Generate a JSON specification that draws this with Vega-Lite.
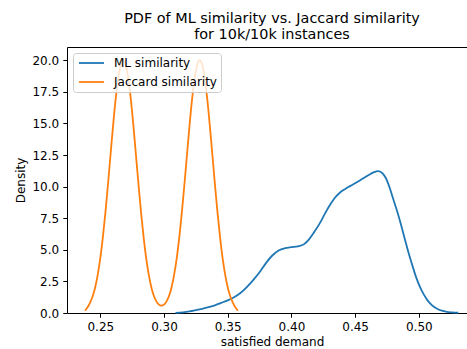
{
  "$schema": "https://vega.github.io/schema/vega-lite/v6.json",
  "width": 400,
  "height": 266,
  "autosize": {"type": "none"},
  "padding": {"left": 67, "top": 47, "right": 0, "bottom": 36},
  "background": "white",
  "title": {
    "text": ["PDF of ML similarity vs. Jaccard similarity", "for 10k/10k instances"],
    "font": "DejaVu Sans",
    "fontSize": 14.4,
    "fontWeight": "normal",
    "color": "black",
    "anchor": "middle",
    "frame": "group",
    "offset": 5,
    "lineHeight": 15.5,
    "dx": 5
  },
  "config": {
    "view": {"stroke": null},
    "axis": {
      "grid": false,
      "domainColor": "black",
      "domainWidth": 1,
      "tickColor": "black",
      "tickWidth": 1,
      "tickSize": 4.2,
      "labelPadding": 4.2,
      "labelFont": "DejaVu Sans",
      "labelFontSize": 12,
      "labelColor": "black",
      "titleFont": "DejaVu Sans",
      "titleFontSize": 12,
      "titleFontWeight": "normal",
      "titleColor": "black"
    },
    "legend": {
      "orient": "none",
      "legendX": 6,
      "legendY": 6,
      "padding": 4,
      "rowPadding": 7,
      "fillColor": "rgba(255,255,255,0.8)",
      "strokeColor": "#cccccc",
      "cornerRadius": 3,
      "symbolType": "M-0.8,0H4.2",
      "symbolSize": 100,
      "symbolStrokeWidth": 1.8,
      "labelOffset": 25,
      "labelFont": "DejaVu Sans",
      "labelFontSize": 12,
      "labelColor": "black"
    }
  },
  "data": {
    "values": [
      {"s": "ML similarity", "x": 0.309, "y": 0.01},
      {"s": "ML similarity", "x": 0.315, "y": 0.05},
      {"s": "ML similarity", "x": 0.320, "y": 0.12},
      {"s": "ML similarity", "x": 0.325, "y": 0.22},
      {"s": "ML similarity", "x": 0.330, "y": 0.33},
      {"s": "ML similarity", "x": 0.335, "y": 0.46},
      {"s": "ML similarity", "x": 0.340, "y": 0.61},
      {"s": "ML similarity", "x": 0.345, "y": 0.80},
      {"s": "ML similarity", "x": 0.350, "y": 1.00},
      {"s": "ML similarity", "x": 0.355, "y": 1.25},
      {"s": "ML similarity", "x": 0.360, "y": 1.58},
      {"s": "ML similarity", "x": 0.365, "y": 2.05},
      {"s": "ML similarity", "x": 0.370, "y": 2.60},
      {"s": "ML similarity", "x": 0.375, "y": 3.22},
      {"s": "ML similarity", "x": 0.380, "y": 3.95},
      {"s": "ML similarity", "x": 0.385, "y": 4.55},
      {"s": "ML similarity", "x": 0.390, "y": 4.95},
      {"s": "ML similarity", "x": 0.395, "y": 5.13},
      {"s": "ML similarity", "x": 0.400, "y": 5.21},
      {"s": "ML similarity", "x": 0.405, "y": 5.27},
      {"s": "ML similarity", "x": 0.410, "y": 5.45},
      {"s": "ML similarity", "x": 0.414, "y": 5.85},
      {"s": "ML similarity", "x": 0.418, "y": 6.42},
      {"s": "ML similarity", "x": 0.422, "y": 7.05},
      {"s": "ML similarity", "x": 0.426, "y": 7.80},
      {"s": "ML similarity", "x": 0.430, "y": 8.50},
      {"s": "ML similarity", "x": 0.434, "y": 9.10},
      {"s": "ML similarity", "x": 0.438, "y": 9.52},
      {"s": "ML similarity", "x": 0.442, "y": 9.80},
      {"s": "ML similarity", "x": 0.446, "y": 10.04},
      {"s": "ML similarity", "x": 0.450, "y": 10.27},
      {"s": "ML similarity", "x": 0.454, "y": 10.51},
      {"s": "ML similarity", "x": 0.458, "y": 10.76},
      {"s": "ML similarity", "x": 0.462, "y": 11.00},
      {"s": "ML similarity", "x": 0.465, "y": 11.15},
      {"s": "ML similarity", "x": 0.468, "y": 11.22},
      {"s": "ML similarity", "x": 0.471, "y": 11.10},
      {"s": "ML similarity", "x": 0.474, "y": 10.70},
      {"s": "ML similarity", "x": 0.477, "y": 9.95},
      {"s": "ML similarity", "x": 0.480, "y": 9.00},
      {"s": "ML similarity", "x": 0.483, "y": 8.05},
      {"s": "ML similarity", "x": 0.486, "y": 7.00},
      {"s": "ML similarity", "x": 0.489, "y": 5.85},
      {"s": "ML similarity", "x": 0.492, "y": 4.75},
      {"s": "ML similarity", "x": 0.495, "y": 3.75},
      {"s": "ML similarity", "x": 0.498, "y": 2.80},
      {"s": "ML similarity", "x": 0.501, "y": 2.05},
      {"s": "ML similarity", "x": 0.504, "y": 1.45},
      {"s": "ML similarity", "x": 0.507, "y": 0.98},
      {"s": "ML similarity", "x": 0.510, "y": 0.65},
      {"s": "ML similarity", "x": 0.514, "y": 0.36},
      {"s": "ML similarity", "x": 0.518, "y": 0.18},
      {"s": "ML similarity", "x": 0.522, "y": 0.09},
      {"s": "ML similarity", "x": 0.526, "y": 0.05},
      {"s": "ML similarity", "x": 0.531, "y": 0.02},
      {"s": "Jaccard similarity", "x": 0.238, "y": 0.18},
      {"s": "Jaccard similarity", "x": 0.240, "y": 0.45},
      {"s": "Jaccard similarity", "x": 0.242, "y": 0.83},
      {"s": "Jaccard similarity", "x": 0.244, "y": 1.32},
      {"s": "Jaccard similarity", "x": 0.246, "y": 2.04},
      {"s": "Jaccard similarity", "x": 0.248, "y": 3.04},
      {"s": "Jaccard similarity", "x": 0.250, "y": 4.34},
      {"s": "Jaccard similarity", "x": 0.252, "y": 5.98},
      {"s": "Jaccard similarity", "x": 0.254, "y": 7.94},
      {"s": "Jaccard similarity", "x": 0.256, "y": 10.15},
      {"s": "Jaccard similarity", "x": 0.258, "y": 12.48},
      {"s": "Jaccard similarity", "x": 0.260, "y": 14.79},
      {"s": "Jaccard similarity", "x": 0.262, "y": 16.88},
      {"s": "Jaccard similarity", "x": 0.264, "y": 18.55},
      {"s": "Jaccard similarity", "x": 0.266, "y": 19.63},
      {"s": "Jaccard similarity", "x": 0.268, "y": 20.0},
      {"s": "Jaccard similarity", "x": 0.270, "y": 19.63},
      {"s": "Jaccard similarity", "x": 0.272, "y": 18.55},
      {"s": "Jaccard similarity", "x": 0.274, "y": 16.88},
      {"s": "Jaccard similarity", "x": 0.276, "y": 14.79},
      {"s": "Jaccard similarity", "x": 0.278, "y": 12.48},
      {"s": "Jaccard similarity", "x": 0.280, "y": 10.15},
      {"s": "Jaccard similarity", "x": 0.282, "y": 7.94},
      {"s": "Jaccard similarity", "x": 0.284, "y": 5.98},
      {"s": "Jaccard similarity", "x": 0.286, "y": 4.34},
      {"s": "Jaccard similarity", "x": 0.288, "y": 3.05},
      {"s": "Jaccard similarity", "x": 0.290, "y": 2.06},
      {"s": "Jaccard similarity", "x": 0.292, "y": 1.36},
      {"s": "Jaccard similarity", "x": 0.294, "y": 0.92},
      {"s": "Jaccard similarity", "x": 0.296, "y": 0.66},
      {"s": "Jaccard similarity", "x": 0.298, "y": 0.58},
      {"s": "Jaccard similarity", "x": 0.300, "y": 0.66},
      {"s": "Jaccard similarity", "x": 0.302, "y": 0.92},
      {"s": "Jaccard similarity", "x": 0.304, "y": 1.36},
      {"s": "Jaccard similarity", "x": 0.306, "y": 2.06},
      {"s": "Jaccard similarity", "x": 0.308, "y": 3.05},
      {"s": "Jaccard similarity", "x": 0.310, "y": 4.34},
      {"s": "Jaccard similarity", "x": 0.312, "y": 5.98},
      {"s": "Jaccard similarity", "x": 0.314, "y": 7.94},
      {"s": "Jaccard similarity", "x": 0.316, "y": 10.15},
      {"s": "Jaccard similarity", "x": 0.318, "y": 12.48},
      {"s": "Jaccard similarity", "x": 0.320, "y": 14.79},
      {"s": "Jaccard similarity", "x": 0.322, "y": 16.88},
      {"s": "Jaccard similarity", "x": 0.324, "y": 18.55},
      {"s": "Jaccard similarity", "x": 0.326, "y": 19.63},
      {"s": "Jaccard similarity", "x": 0.328, "y": 20.0},
      {"s": "Jaccard similarity", "x": 0.330, "y": 19.63},
      {"s": "Jaccard similarity", "x": 0.332, "y": 18.55},
      {"s": "Jaccard similarity", "x": 0.334, "y": 16.88},
      {"s": "Jaccard similarity", "x": 0.336, "y": 14.79},
      {"s": "Jaccard similarity", "x": 0.338, "y": 12.48},
      {"s": "Jaccard similarity", "x": 0.340, "y": 10.15},
      {"s": "Jaccard similarity", "x": 0.342, "y": 7.94},
      {"s": "Jaccard similarity", "x": 0.344, "y": 5.98},
      {"s": "Jaccard similarity", "x": 0.346, "y": 4.34},
      {"s": "Jaccard similarity", "x": 0.348, "y": 3.04},
      {"s": "Jaccard similarity", "x": 0.350, "y": 2.04},
      {"s": "Jaccard similarity", "x": 0.352, "y": 1.32},
      {"s": "Jaccard similarity", "x": 0.354, "y": 0.83},
      {"s": "Jaccard similarity", "x": 0.356, "y": 0.45},
      {"s": "Jaccard similarity", "x": 0.358, "y": 0.18}
    ]
  },
  "layer": [
    {
      "mark": {"type": "line", "strokeWidth": 1.8, "interpolate": "monotone"},
      "encoding": {
        "x": {
          "field": "x",
          "type": "quantitative",
          "scale": {"domain": [0.22386, 0.53783], "nice": false, "zero": false},
          "axis": {"values": [0.25, 0.3, 0.35, 0.4, 0.45, 0.5], "format": ".2f", "title": "satisfied demand", "titlePadding": 4, "titleX": 205}
        },
        "y": {
          "field": "y",
          "type": "quantitative",
          "scale": {"domain": [0, 21.05], "nice": false},
          "axis": {"values": [0, 2.5, 5, 7.5, 10, 12.5, 15, 17.5, 20], "format": ".1f", "title": "Density", "titlePadding": 4}
        },
        "color": {
          "field": "s",
          "type": "nominal",
          "scale": {"domain": ["ML similarity", "Jaccard similarity"], "range": ["#1f77b4", "#ff7f0e"]},
          "legend": {"title": null}
        },
        "detail": {"field": "s"}
      }
    },
    {
      "mark": {"type": "rule", "opacity": 0},
      "encoding": {
        "x": {
          "field": "x",
          "type": "quantitative",
          "aggregate": "min",
          "axis": {"orient": "top", "labels": false, "ticks": false, "title": null, "domain": true}
        }
      }
    }
  ],
  "resolve": {"axis": {"x": "independent"}}
}
